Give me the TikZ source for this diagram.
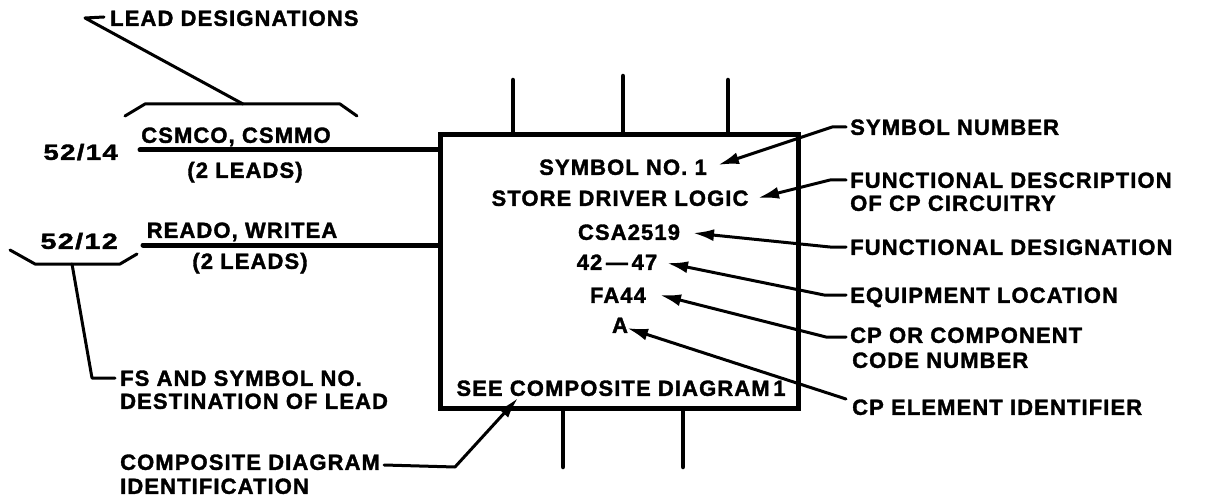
\documentclass[tikz,border=0pt]{standalone}
\usepackage{fontspec}
\newfontfamily\lblfont{Liberation Sans Bold}[LetterSpace=5, FakeBold=1.6]
\usetikzlibrary{arrows.meta}
\begin{document}
\begin{tikzpicture}[x=1pt,y=-1pt,
  lbl/.style={font=\lblfont\fontsize{22}{24}\selectfont, inner sep=0pt, text height=15.7pt, text depth=0pt},
  leader/.style={line width=3pt, line cap=round, line join=round},
  arr/.style={leader, -{Latex[length=21pt,width=12pt]}},
  lead/.style={line width=5pt, line cap=round},
  stub/.style={line width=4.5pt, line cap=round}]
\useasboundingbox (0,0) rectangle (1207,497);
% symbol box
\node[draw, line width=5pt, minimum width=358pt, minimum height=273pt, inner sep=0pt] (box) at (619,271.5) {};
% stubs
\coordinate (s1) at (513,80);
\coordinate (s2) at (623,76);
\coordinate (s3) at (728,80);
\coordinate (b1) at (563,467);
\coordinate (b2) at (683,467);
\foreach \s in {s1,s2,s3} \draw[stub] (\s) -- (\s |- box.north);
\foreach \s in {b1,b2} \draw[stub] (\s) -- (\s |- box.south);
% leads
\coordinate (l1) at (140,150);
\coordinate (l2) at (143,245);
\draw[lead] (l1) -- (l1 -| box.west);
\draw[lead] (l2) -- (l2 -| box.west);
% texts inside box
\node[lbl] (tSym) at (623,167) {SYMBOL NO. 1};
\node[lbl] (tStore) at (620,198) {STORE DRIVER LOGIC};
\node[lbl] (tCsa) at (629,232) {CSA2519};
\node[lbl] (tLoc) at (617,262) {42\,—\,47};
\node[lbl] (tFa) at (618,295) {FA44};
\node[lbl] (tA) at (620,325) {A};
\node[lbl] (tSee) at (621,388) {SEE COMPOSITE DIAGRAM\,1};
% left texts
\node[lbl, anchor=east] (n5214) at (118,152) {\scalebox{1.25}[1]{52/14}};
\node[lbl] (csm) at (236,135) {CSMCO, CSMMO};
\node[lbl] (leads1) at (245,170) {(2 LEADS)};
\node[lbl] (rw) at (242,230) {READO, WRITEA};
\node[lbl] (leads2) at (250,261) {(2 LEADS)};
\node[lbl, anchor=east] (n5212) at (118,241) {\scalebox{1.3}[1]{52/12}};
\node[lbl, anchor=west] (ldes) at (110,18) {LEAD DESIGNATIONS};
\node[lbl, anchor=west] (fs1) at (120,378) {FS AND SYMBOL NO.};
\node[lbl, anchor=west] (fs2) at (120,401) {DESTINATION OF LEAD};
\node[lbl, anchor=west] (cd1) at (120,462) {COMPOSITE DIAGRAM};
\node[lbl, anchor=west] (cd2) at (120,486) {IDENTIFICATION};
% brackets
\draw[leader] (125,116) -- (145,104) -- (340,104) -- (357,116);
\coordinate (bk1) at (243,104);
\draw[leader] (bk1) -- (85,18) -- (104,17);
\draw[leader] (10,250) -- (35,264) -- (120,264) -- (137,254);
\coordinate (bk2) at (72,264);
\draw[leader] (bk2) -- (92,378) -- ([xshift=-5pt]fs1.west);
% composite diagram arrow
\coordinate (cdTip) at (518,398);
\draw[arr] (cd1.east) ++(4,3) -- (455,467) -- (cdTip);
% right labels
\node[lbl, anchor=west] (rSym) at (850,127) {SYMBOL NUMBER};
\node[lbl, anchor=west] (rFd1) at (850,180) {FUNCTIONAL DESCRIPTION};
\node[lbl, anchor=west] (rFd2) at (850,203) {OF CP CIRCUITRY};
\node[lbl, anchor=west] (rDes) at (850,247) {FUNCTIONAL DESIGNATION};
\node[lbl, anchor=west] (rEq) at (850,295) {EQUIPMENT LOCATION};
\node[lbl, anchor=west] (rCp1) at (850,335) {CP OR COMPONENT};
\node[lbl, anchor=west] (rCp2) at (852,360) {CODE NUMBER};
\node[lbl, anchor=west] (rEl) at (852,407) {CP ELEMENT IDENTIFIER};
% tips
\coordinate (pSym) at (718,165);
\coordinate (pStore) at (758,198);
\coordinate (pCsa) at (693,233);
\coordinate (pLoc) at (667,263);
\coordinate (pFa) at (660,295);
\coordinate (pA) at (627,328);
\draw[arr] (rSym.west) ++(-4,0) -- ++(-14,0) -- (pSym);
\draw[arr] (rFd1.west) ++(-4,0) -- ++(-16,0) -- (pStore);
\draw[arr] (rDes.west) ++(-4,0) -- ++(-16,0) -- (pCsa);
\draw[arr] (rEq.west) ++(-4,0) -- ++(-22,0) -- (pLoc);
\draw[arr] (rCp1.west) ++(-4,2) -- ++(-20,0) -- (pFa);
\draw[arr] (rEl.west) ++(-6,-8) -- (pA);
\end{tikzpicture}
\end{document}
